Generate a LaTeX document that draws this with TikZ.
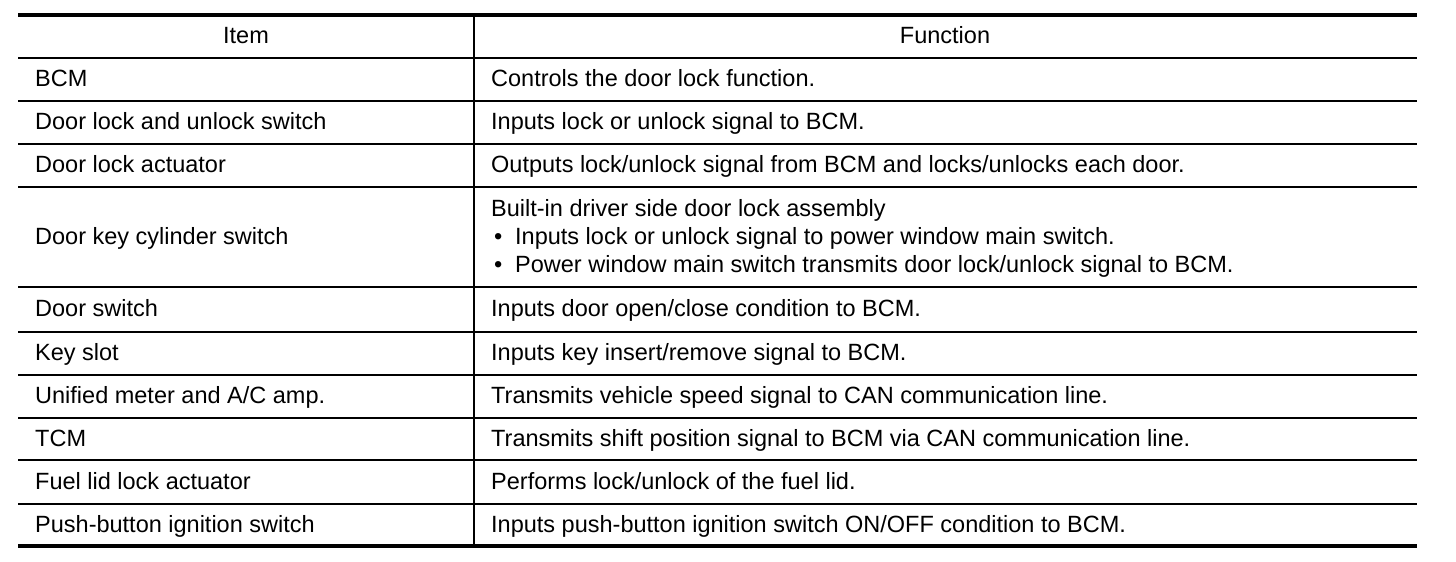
\documentclass[tikz,border=0pt]{standalone}
\usepackage{fontspec}
\setmainfont{Liberation Sans}
\begin{document}
\begin{tikzpicture}[x=1pt,y=-1pt]
	\tikzstyle{every node}=[inner sep=0pt,anchor=base west,font=\fontsize{23.5}{28}\selectfont]
	\tikzstyle{head}=[anchor=base]
	\tikzstyle{thin rule}=[line width=1.1pt]
	\tikzstyle{thick rule}=[line width=3.2pt]
	\useasboundingbox (0,0) rectangle (1456,562);
	% rules
	\draw[thick rule] (18,15) -- (1417,15);
	\foreach \y in {58,101,144,187,287,332,375,418,460,504}
		\draw[thin rule] (18,\y) -- (1417,\y);
	\draw[line width=4pt] (18,546) -- (1417,546);
	\draw[line width=1.6pt] (474,15) -- (474,546);
	% header
	\node[head] (item) at (246,43) {Item};
	\node[head] (function) at (945,43) {Function};
	% items
	\node (i1) at (35,86) {BCM};
	\node (i2) at (35,129) {Door lock and unlock switch};
	\node (i3) at (35,172) {Door lock actuator};
	\node (i4) at (35,244) {Door key cylinder switch};
	\node (i5) at (35,316) {Door switch};
	\node (i6) at (35,360) {Key slot};
	\node (i7) at (35,403) {Unified meter and A/C amp.};
	\node (i8) at (35,446) {TCM};
	\node (i9) at (35,489) {Fuel lid lock actuator};
	\node (i10) at (35,532) {Push-button ignition switch};
	% functions
	\node (f1) at (491,86) {Controls the door lock function.};
	\node (f2) at (491,129) {Inputs lock or unlock signal to BCM.};
	\node (f3) at (491,172) {Outputs lock/unlock signal from BCM and locks/unlocks each door.};
	\node (f4) at (491,216) {Built-in driver side door lock assembly};
	\node (f4a) at (494,244) {\hbox to 21pt{\textbullet\hfil}Inputs lock or unlock signal to power window main switch.};
	\node (f4b) at (494,272) {\hbox to 21pt{\textbullet\hfil}Power window main switch transmits door lock/unlock signal to BCM.};
	\node (f5) at (491,316) {Inputs door open/close condition to BCM.};
	\node (f6) at (491,360) {Inputs key insert/remove signal to BCM.};
	\node (f7) at (491,403) {Transmits vehicle speed signal to CAN communication line.};
	\node (f8) at (491,446) {Transmits shift position signal to BCM via CAN communication line.};
	\node (f9) at (491,489) {Performs lock/unlock of the fuel lid.};
	\node (f10) at (491,532) {Inputs push-button ignition switch ON/OFF condition to BCM.};
\end{tikzpicture}
\end{document}
